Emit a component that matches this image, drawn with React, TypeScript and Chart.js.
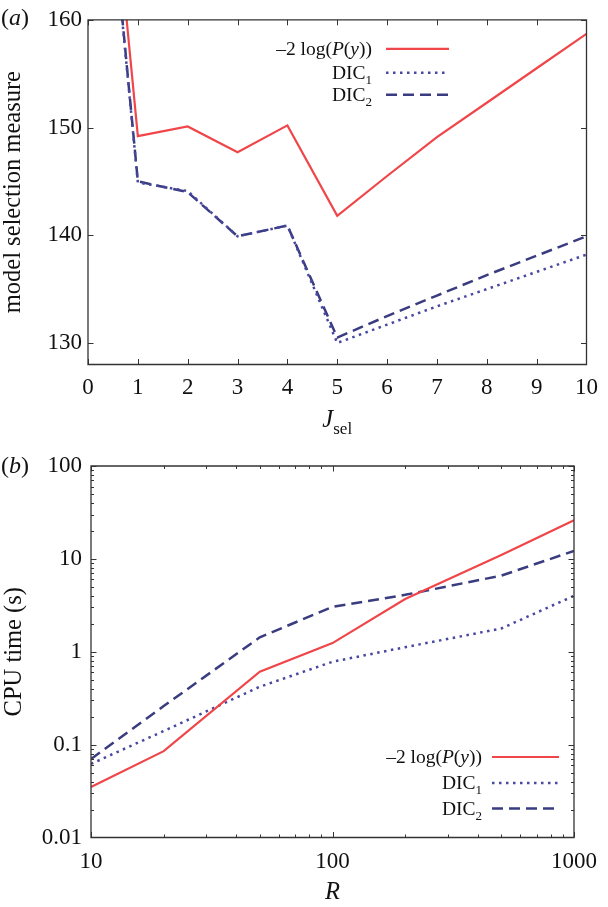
import React, { useEffect, useRef } from "react";
import { Chart, registerables } from "chart.js";
Chart.register(...registerables);

// ---------- data: panel (a) ----------
const jSel = [0, 1, 2, 3, 4, 5, 6, 7, 8, 9, 10];
const msLogP = [197.3, 149.2, 150.1, 147.7, 150.2, 141.8, 145.5, 149.1, 152.3, 155.5, 158.7];
const msDIC1 = [193.0, 144.9, 144.1, 139.9, 140.9, 130.0, 131.7, 133.4, 135.0, 136.6, 138.2];
const msDIC2 = [193.5, 145.0, 144.0, 139.9, 140.9, 130.5, 132.5, 134.4, 136.3, 138.1, 139.9];
const aXTicks = [0, 1, 2, 3, 4, 5, 6, 7, 8, 9, 10];
const aYTicks = [130, 140, 150, 160];

// ---------- data: panel (b) ----------
const rValues = [10, 20, 50, 100, 200, 500, 1000];
const cpuLogP = [0.035, 0.085, 0.61, 1.24, 3.7, 11, 26];
const cpuDIC1 = [0.062, 0.14, 0.42, 0.78, 1.12, 1.78, 4.0];
const cpuDIC2 = [0.07, 0.26, 1.43, 3.05, 4.1, 6.6, 12.2];
const bXTicks = [10, 100, 1000];
const bYTicks = [0.01, 0.1, 1, 10, 100];

const legendLabels = ["logP", "DIC1", "DIC2"];

const FONT = "Liberation Serif";
const TICK_SIZE = 23;
const TITLE_SIZE = 24.5;
const RED = "rgb(240,70,74)";
const NAVY_DASH = "rgb(58,60,128)";
const NAVY_DOT = "rgb(72,72,160)";
const STYLES = [
  { color: RED, dash: [] as number[], width: 2.2 },
  { color: NAVY_DOT, dash: [2.5, 4.5], width: 2.5 },
  { color: NAVY_DASH, dash: [11, 6], width: 2.5 },
];

function logMinors(majors: number[]) {
  const out: number[] = [];
  for (let i = 0; i < majors.length - 1; i++) {
    for (let k = 2; k <= 9; k++) out.push(majors[i] * k);
  }
  return out;
}

type Seg = { t: string; italic?: boolean; sub?: boolean };
function drawSegs(
  ctx: CanvasRenderingContext2D,
  segs: Seg[],
  xRef: number,
  baseline: number,
  size: number,
  align: "right" | "center" | "left" = "right"
) {
  const subSize = Math.round(size * 0.68);
  const fontFor = (s: Seg) => `${s.italic ? "italic " : ""}${s.sub ? subSize : size}px "${FONT}"`;
  let total = 0;
  const widths = segs.map((s) => {
    ctx.font = fontFor(s);
    const w = ctx.measureText(s.t).width;
    total += w;
    return w;
  });
  let x = align === "right" ? xRef - total : align === "center" ? xRef - total / 2 : xRef;
  ctx.textAlign = "left";
  ctx.textBaseline = "alphabetic";
  segs.forEach((s, i) => {
    ctx.font = fontFor(s);
    ctx.fillText(s.t, x, baseline + (s.sub ? size * 0.28 : 0));
    x += widths[i];
  });
}

const legendText: Record<string, Seg[]> = {
  logP: [{ t: "\u20132 log(" }, { t: "P", italic: true }, { t: "(" }, { t: "y", italic: true }, { t: "))" }],
  DIC1: [{ t: "DIC" }, { t: "1", sub: true }],
  DIC2: [{ t: "DIC" }, { t: "2", sub: true }],
};

type Deco = {
  xMajor: number[];
  xMinor: number[];
  yMajor: number[];
  yMinor: number[];
  panel: string;
  panelBaseline: number;
  legend: { textRight: number; x1: number; x2: number; rows: number[]; size: number };
  xTitle?: { segs: Seg[]; baseline: number };
};

function makeDeco(d: Deco) {
  return {
    id: "deco",
    afterDraw(chart: any) {
      const { ctx, chartArea: a, scales } = chart;
      const xs = scales.x;
      const ys = scales.y;
      ctx.save();
      ctx.strokeStyle = "#333";
      ctx.lineWidth = 1.3;
      ctx.beginPath();
      ctx.rect(a.left, a.top, a.right - a.left, a.bottom - a.top);
      ctx.stroke();
      ctx.lineWidth = 1;
      const tick = (vals: number[], len: number, horiz: boolean) => {
        vals.forEach((v) => {
          if (horiz) {
            const p = Math.round(xs.getPixelForValue(v)) + 0.5;
            if (p < a.left - 0.5 || p > a.right + 0.5) return;
            ctx.beginPath();
            ctx.moveTo(p, a.bottom);
            ctx.lineTo(p, a.bottom - len);
            ctx.moveTo(p, a.top);
            ctx.lineTo(p, a.top + len);
            ctx.stroke();
          } else {
            const p = Math.round(ys.getPixelForValue(v)) + 0.5;
            if (p < a.top - 0.5 || p > a.bottom + 0.5) return;
            ctx.beginPath();
            ctx.moveTo(a.left, p);
            ctx.lineTo(a.left + len, p);
            ctx.moveTo(a.right, p);
            ctx.lineTo(a.right - len, p);
            ctx.stroke();
          }
        });
      };
      tick(d.xMajor, 5.5, true);
      tick(d.xMinor, 3, true);
      tick(d.yMajor, 5.5, false);
      tick(d.yMinor, 3, false);

      // legend
      ctx.fillStyle = "#111";
      const L = d.legend;
      legendLabels.forEach((key, i) => {
        const y = a.top + L.rows[i];
        drawSegs(ctx, legendText[key], a.left + L.textRight, y + 6, L.size, "right");
        const st = STYLES[i];
        ctx.save();
        ctx.strokeStyle = st.color;
        ctx.lineWidth = st.width;
        ctx.setLineDash(st.dash);
        ctx.beginPath();
        ctx.moveTo(a.left + L.x1, y);
        ctx.lineTo(a.left + L.x2, y);
        ctx.stroke();
        ctx.restore();
      });

      // panel label
      ctx.fillStyle = "#111";
      drawSegs(ctx, [{ t: "(" }, { t: d.panel, italic: true }, { t: ")" }], 1, d.panelBaseline, 24, "left");

      if (d.xTitle) {
        drawSegs(ctx, d.xTitle.segs, (a.left + a.right) / 2, d.xTitle.baseline, TITLE_SIZE, "center");
      }
      ctx.restore();
    },
  };
}

function ChartA() {
  const ref = useRef<HTMLCanvasElement | null>(null);
  useEffect(() => {
    if (!ref.current) return;
    const series = [msLogP, msDIC1, msDIC2];
    const chart = new Chart(ref.current, {
      type: "line",
      data: {
        datasets: series.map((s, i) => ({
          label: legendLabels[i],
          data: jSel.map((x, k) => ({ x, y: s[k] })),
          borderColor: STYLES[i].color,
          borderDash: STYLES[i].dash,
          borderWidth: STYLES[i].width,
          pointRadius: 0,
          fill: false,
          tension: 0,
        })),
      },
      options: {
        animation: false,
        responsive: false,
        maintainAspectRatio: false,
        layout: { padding: { left: 0, top: 17, right: 17, bottom: 0 } },
        plugins: { legend: { display: false }, tooltip: { enabled: false } },
        scales: {
          x: {
            type: "linear",
            min: 0,
            max: 10,
            grid: { display: false, drawTicks: false },
            border: { display: false },
            afterBuildTicks: (s: any) => {
              s.ticks = aXTicks.map((v) => ({ value: v }));
            },
            afterFit: (s: any) => {
              s.height = 440 - 364.5;
            },
            ticks: { color: "#111", padding: 10, maxRotation: 0, font: { family: FONT, size: TICK_SIZE } },
          },
          y: {
            type: "linear",
            min: 128,
            max: 160,
            grid: { display: false, drawTicks: false },
            border: { display: false },
            afterBuildTicks: (s: any) => {
              s.ticks = aYTicks.map((v) => ({ value: v }));
            },
            afterFit: (s: any) => {
              s.width = 88;
            },
            ticks: { color: "#111", padding: 6, font: { family: FONT, size: TICK_SIZE } },
            title: {
              display: true,
              text: "model selection measure",
              color: "#111",
              padding: { top: -1, bottom: 0 },
              font: { family: FONT, size: TITLE_SIZE },
            },
          },
        },
      },
      plugins: [
        makeDeco({
          xMajor: aXTicks,
          xMinor: [],
          yMajor: aYTicks,
          yMinor: [],
          panel: "a",
          panelBaseline: 25,
          legend: { textRight: 284, x1: 298, x2: 361, rows: [29, 53, 75], size: 19.5 },
          xTitle: { segs: [{ t: "J", italic: true }, { t: "sel", sub: true }], baseline: 427 },
        }),
      ],
    });
    return () => chart.destroy();
  }, []);
  return <canvas ref={ref} width={608} height={440} style={{ display: "block" }} />;
}

function ChartB() {
  const ref = useRef<HTMLCanvasElement | null>(null);
  useEffect(() => {
    if (!ref.current) return;
    const series = [cpuLogP, cpuDIC1, cpuDIC2];
    const chart = new Chart(ref.current, {
      type: "line",
      data: {
        datasets: series.map((s, i) => ({
          label: legendLabels[i],
          data: rValues.map((x, k) => ({ x, y: s[k] })),
          borderColor: STYLES[i].color,
          borderDash: STYLES[i].dash,
          borderWidth: STYLES[i].width,
          pointRadius: 0,
          fill: false,
          tension: 0,
        })),
      },
      options: {
        animation: false,
        responsive: false,
        maintainAspectRatio: false,
        layout: { padding: { left: 0, top: 26, right: 27, bottom: 0 } },
        plugins: { legend: { display: false }, tooltip: { enabled: false } },
        scales: {
          x: {
            type: "logarithmic",
            min: 10,
            max: 1000,
            grid: { display: false, drawTicks: false },
            border: { display: false },
            afterBuildTicks: (s: any) => {
              s.ticks = bXTicks.map((v) => ({ value: v }));
            },
            afterFit: (s: any) => {
              s.height = 467 - 397.5;
            },
            ticks: {
              color: "#111",
              padding: 11,
              maxRotation: 0,
              font: { family: FONT, size: TICK_SIZE },
              callback: (v: any) => String(v),
            },
            title: {
              display: true,
              text: "R",
              color: "#111",
              padding: { top: 0, bottom: 0 },
              font: { family: FONT, size: TITLE_SIZE, style: "italic" },
            },
          },
          y: {
            type: "logarithmic",
            min: 0.01,
            max: 100,
            grid: { display: false, drawTicks: false },
            border: { display: false },
            afterBuildTicks: (s: any) => {
              s.ticks = bYTicks.map((v) => ({ value: v }));
            },
            afterFit: (s: any) => {
              s.width = 91;
            },
            ticks: {
              color: "#111",
              padding: 9,
              font: { family: FONT, size: TICK_SIZE },
              callback: (v: any) => String(v),
            },
            title: {
              display: true,
              text: "CPU time (s)",
              color: "#111",
              padding: { top: 0, bottom: 0 },
              font: { family: FONT, size: TITLE_SIZE },
            },
          },
        },
      },
      plugins: [
        makeDeco({
          xMajor: bXTicks,
          xMinor: logMinors(bXTicks),
          yMajor: bYTicks,
          yMinor: logMinors(bYTicks),
          panel: "b",
          panelBaseline: 33,
          legend: { textRight: 391, x1: 401, x2: 468, rows: [291, 317, 342.5], size: 19.5 },
        }),
      ],
    });
    return () => chart.destroy();
  }, []);
  return <canvas ref={ref} width={608} height={467} style={{ display: "block" }} />;
}

export default function App() {
  return (
    <div style={{ position: "absolute", left: 0, top: 0, width: 608, height: 907, background: "#fff" }}>
      <ChartA />
      <ChartB />
    </div>
  );
}
